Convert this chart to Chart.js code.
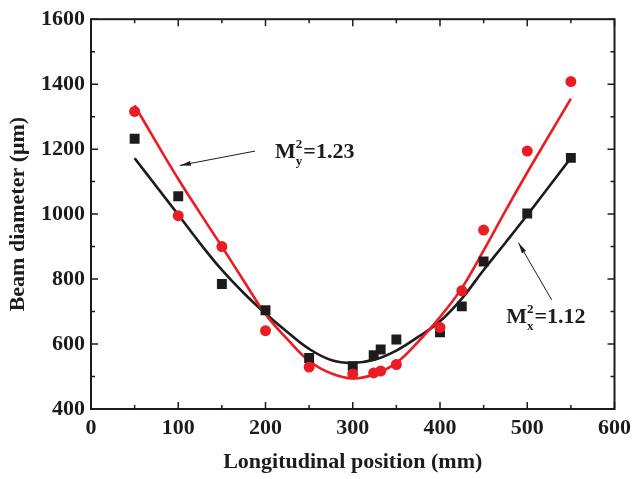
<!DOCTYPE html>
<html>
<head>
<meta charset="utf-8">
<script src="https://cdn.jsdelivr.net/npm/chart.js@4/dist/chart.umd.min.js"></script>
<style>
  html, body { margin: 0; padding: 0; background: #fff; }
  canvas { display: block; }
</style>
</head>
<body>
<canvas id="beam" width="637" height="479"></canvas>
<script>
// measured points (mm, um)
const posX = [50, 100, 150, 200, 250, 300, 324, 332, 350, 400, 425, 450, 500, 550];
const beamX = [1232, 1055, 785, 704, 557, 532, 566, 583, 614, 636, 716, 854, 1002, 1173];
const beamY = [1316, 995, 900, 641, 529, 508, 511, 517, 537, 651, 764, 951, 1194, 1408];

// fitted curves
const fitPos = [50, 75, 100, 125, 150, 175, 200, 225, 250, 275, 300, 325, 350, 375, 400, 425, 450, 475, 500, 525, 550];
const fitX = [1172, 1085, 998, 910, 828, 757, 694, 637, 585, 551, 542, 552, 580, 622, 670, 740, 828, 912, 997, 1085, 1173];
const fitY = [1335, 1220, 1108, 1003, 900, 795, 692, 615, 548, 510, 494, 507, 542, 607, 683, 772, 888, 1010, 1128, 1242, 1355];

const xTicks = [0, 100, 200, 300, 400, 500, 600];
const yTicks = [400, 600, 800, 1000, 1200, 1400, 1600];

const RED = '#ec1c24';
const BLACK = '#1e1b1c';
const FONT = 'Liberation Serif';

const pts = (xs, ys) => xs.map((x, i) => ({x: x, y: ys[i]}));

// inward ticks on all four sides, frame and the two M² labels
const decor = {
  id: 'decor',
  afterDraw(chart) {
    const {ctx, chartArea: a, scales: {x, y}} = chart;
    ctx.save();
    ctx.strokeStyle = BLACK;
    ctx.lineWidth = 2;
    ctx.strokeRect(a.left, a.top, a.right - a.left, a.bottom - a.top);

    ctx.lineWidth = 1.5;
    ctx.beginPath();
    for (let v = 0; v <= 600; v += 50) {
      const px = x.getPixelForValue(v);
      const len = v % 100 === 0 ? 7 : 4;
      ctx.moveTo(px, a.bottom); ctx.lineTo(px, a.bottom - len);
      ctx.moveTo(px, a.top); ctx.lineTo(px, a.top + len);
    }
    for (let v = 400; v <= 1600; v += 100) {
      const py = y.getPixelForValue(v);
      const len = v % 200 === 0 ? 7 : 4;
      ctx.moveTo(a.left, py); ctx.lineTo(a.left + len, py);
      ctx.moveTo(a.right, py); ctx.lineTo(a.right - len, py);
    }
    ctx.stroke();

    const arrow = (x1, y1, x2, y2) => {
      const ax = x.getPixelForValue(x1), ay = y.getPixelForValue(y1);
      const bx = x.getPixelForValue(x2), by = y.getPixelForValue(y2);
      const ang = Math.atan2(by - ay, bx - ax);
      ctx.lineWidth = 1;
      ctx.beginPath();
      ctx.moveTo(ax, ay); ctx.lineTo(bx, by);
      ctx.stroke();
      ctx.beginPath();
      ctx.moveTo(bx, by);
      ctx.lineTo(bx - 11 * Math.cos(ang - 0.22), by - 11 * Math.sin(ang - 0.22));
      ctx.lineTo(bx - 11 * Math.cos(ang + 0.22), by - 11 * Math.sin(ang + 0.22));
      ctx.closePath();
      ctx.fill();
    };

    const label = (vx, vy, sub, rest) => {
      let px = x.getPixelForValue(vx);
      const py = y.getPixelForValue(vy);
      ctx.fillStyle = BLACK;
      ctx.textBaseline = 'alphabetic';
      ctx.textAlign = 'left';
      ctx.font = `bold 22px "${FONT}"`;
      ctx.fillText('M', px, py);
      px += ctx.measureText('M').width;
      ctx.font = `bold 13px "${FONT}"`;
      ctx.fillText('2', px, py - 10);
      ctx.fillText(sub, px, py + 7);
      px += ctx.measureText(sub).width + 1;
      ctx.font = `bold 22px "${FONT}"`;
      ctx.fillText(rest, px, py);
    };

    ctx.fillStyle = BLACK;
    arrow(188, 1194, 102, 1150);
    label(211, 1174, 'y', '=1.23');
    arrow(528, 736, 490, 912);
    label(476, 665, 'x', '=1.12');
    ctx.restore();
  }
};

const plain = v => String(v);

new Chart(document.getElementById('beam'), {
  type: 'scatter',
  data: {
    datasets: [
      {
        label: 'y data', data: pts(posX, beamY), order: 0,
        pointStyle: 'circle', pointRadius: 5.5, pointHoverRadius: 5.5,
        backgroundColor: RED, borderColor: RED, borderWidth: 0
      },
      {
        label: 'x data', data: pts(posX, beamX), order: 1,
        pointStyle: 'rect', pointRadius: 7, pointHoverRadius: 7,
        backgroundColor: BLACK, borderColor: BLACK, borderWidth: 0
      },
      {
        label: 'y fit', data: pts(fitPos, fitY), order: 2, showLine: true,
        pointRadius: 0, borderColor: RED, borderWidth: 2.6, tension: 0.4
      },
      {
        label: 'x fit', data: pts(fitPos, fitX), order: 3, showLine: true,
        pointRadius: 0, borderColor: BLACK, borderWidth: 2.6, tension: 0.4
      }
    ]
  },
  options: {
    responsive: false,
    animation: false,
    devicePixelRatio: 1,
    layout: {autoPadding: false, padding: {top: 16, right: 22, left: 0, bottom: 0}},
    plugins: {legend: {display: false}, tooltip: {enabled: false}},
    scales: {
      x: {
        type: 'linear', min: 0, max: 600,
        afterBuildTicks: s => { s.ticks = xTicks.map(v => ({value: v})); },
        afterFit: s => { s.height = 70; },
        grid: {drawOnChartArea: false, drawTicks: false},
        border: {display: false},
        ticks: {color: BLACK, padding: 6, maxRotation: 0, callback: plain,
                font: {family: FONT, size: 22, weight: 'bold'}},
        title: {display: true, text: 'Longitudinal position (mm)', color: BLACK,
                padding: {top: 0, bottom: 3}, font: {family: FONT, size: 22, weight: 'bold'}}
      },
      y: {
        type: 'linear', min: 400, max: 1600,
        afterBuildTicks: s => { s.ticks = yTicks.map(v => ({value: v})); },
        afterFit: s => { s.width = 91; },
        grid: {drawOnChartArea: false, drawTicks: false},
        border: {display: false},
        ticks: {color: BLACK, padding: 6, callback: plain,
                font: {family: FONT, size: 22, weight: 'bold'}},
        title: {display: true, text: 'Beam diameter (μm)', color: BLACK,
                padding: {top: 5, bottom: 0}, font: {family: FONT, size: 22, weight: 'bold'}}
      }
    }
  },
  plugins: [decor]
});
</script>
</body>
</html>
